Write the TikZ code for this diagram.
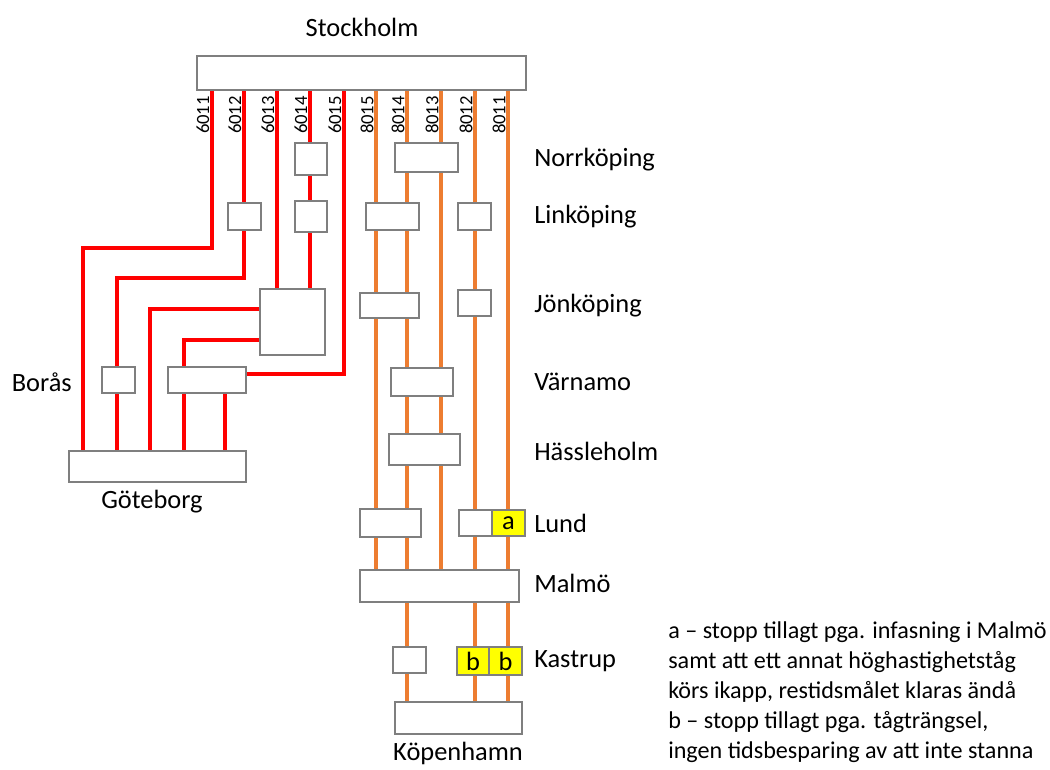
\documentclass[tikz,border=0pt]{standalone}
\usepackage{fontspec}
\setmainfont{Carlito}
\usetikzlibrary{fit,backgrounds}
\definecolor{railred}{HTML}{FF0000}
\definecolor{railorange}{HTML}{ED7D31}
\definecolor{boxgray}{HTML}{7F7F7F}
\definecolor{stopyellow}{HTML}{FFFF00}
\begin{document}
\begin{tikzpicture}[x=0.75pt,y=-0.75pt,
  stopbox/.style={draw=boxgray, line width=1.7pt, fill=white, inner sep=0pt},
  addedstop/.style={stopbox, fill=stopyellow},
  redline/.style={draw=railred, line width=2.3pt},
  orangeline/.style={draw=railorange, line width=2.5pt},
  station/.style={font=\fontsize{19.8}{22}\selectfont, inner sep=0pt},
  trainno/.style={font=\fontsize{14}{16}\selectfont, rotate=90, inner sep=0pt},
  note/.style={font=\fontsize{18.1}{22.5}\selectfont, align=left, inner sep=0pt}]
\useasboundingbox (0,0) rectangle (1050,769);

% track positions
\foreach \n/\x in {6011/212,6012/244,6013/277,6014/310,6015/344,
                   8015/376,8014/407,8013/441,8012/475,8011/508}
  \coordinate (t\n) at (\x,0);
% bend points of the red lines
\coordinate (k6011) at (83,248);
\coordinate (k6012) at (117,278);
\coordinate (k6013) at (150,309);
\coordinate (kjb)   at (184,340);
\coordinate (k6015) at (344,374);
\coordinate (kbg)   at (225,0);

% stations
\node[stopbox, fit={(197,56) (526,90)}] (sth) {};
\node[stopbox, fit={(295,143) (327,175)}] (nk1) {};
\node[stopbox, fit={(395,143) (458,172)}] (nk2) {};
\node[stopbox, fit={(228,203) (261,230)}] (lk1) {};
\node[stopbox, fit={(295,201) (327,232)}] (lk2) {};
\node[stopbox, fit={(366,203) (419,230)}] (lk3) {};
\node[stopbox, fit={(458,203) (491,230)}] (lk4) {};
\node[stopbox, fit={(260,289) (325,355)}] (jk1) {};
\node[stopbox, fit={(360,293) (419,318)}] (jk2) {};
\node[stopbox, fit={(458,290) (491,316)}] (jk3) {};
\node[stopbox, fit={(391,368) (453,396)}] (vn) {};
\node[stopbox, fit={(389,434) (460,465)}] (hh) {};
\node[stopbox, fit={(360,509) (421,537)}] (ld1) {};
\node[stopbox, fit={(459,510) (492,536)}] (ld2) {};
\node[addedstop, fit={(492,510) (525,536)}] (lda) {};
\node[station] at (lda.center) (ldalab) {a};
\node[stopbox, fit={(360,570) (519,602)}] (ml) {};
\node[stopbox, fit={(393,647) (426,673)}] (ks1) {};
\node[addedstop, fit={(457,647) (489,675)}] (ksb1) {};
\node[station] at (ksb1.center) (ksb1lab) {b};
\node[addedstop, fit={(489,647) (522,675)}] (ksb2) {};
\node[station] at (ksb2.center) (ksb2lab) {b};
\node[stopbox, fit={(395,702) (522,734)}] (kh) {};
\node[stopbox, fit={(102,367) (135,393)}] (br1) {};
\node[stopbox, fit={(168,367) (246,393)}] (br2) {};
\node[stopbox, fit={(69,451) (246,482)}] (gb) {};

\begin{scope}[on background layer]
  % X 2000 services via Göteborg
  \draw[redline] (sth.south -| t6011) |- (k6011) -- (gb.north -| k6011);
  \draw[redline] (sth.south -| t6012) -- (lk1.north -| t6012);
  \draw[redline] (lk1.south -| t6012) |- (k6012) -- (br1.north -| k6012);
  \draw[redline] (br1.south -| k6012) -- (gb.north -| k6012);
  \draw[redline] (sth.south -| t6013) -- (jk1.north -| t6013);
  \draw[redline] (jk1.west |- k6013) -| (gb.north -| k6013);
  \draw[redline] (sth.south -| t6014) -- (nk1.north -| t6014);
  \draw[redline] (nk1.south -| t6014) -- (lk2.north -| t6014);
  \draw[redline] (lk2.south -| t6014) -- (jk1.north -| t6014);
  \draw[redline] (jk1.west |- kjb) -| (br2.north -| kjb);
  \draw[redline] (br2.south -| kjb) -- (gb.north -| kjb);
  \draw[redline] (br2.south -| kbg) -- (gb.north -| kbg);
  \draw[redline] (sth.south -| k6015) |- (br2.east |- k6015);
  % high-speed services to Malmö and Köpenhamn
  \foreach \a/\b in {sth/lk3,lk3/jk2,jk2/ld1,ld1/ml}
    \draw[orangeline] (\a.south -| t8015) -- (\b.north -| t8015);
  \foreach \a/\b in {sth/nk2,nk2/lk3,lk3/jk2,jk2/vn,vn/hh,hh/ld1,ld1/ml,ml/ks1,ks1/kh}
    \draw[orangeline] (\a.south -| t8014) -- (\b.north -| t8014);
  \foreach \a/\b in {sth/nk2,nk2/vn,vn/hh,hh/ml}
    \draw[orangeline] (\a.south -| t8013) -- (\b.north -| t8013);
  \foreach \a/\b in {sth/lk4,lk4/jk3,jk3/ld2,ld2/ml,ml/ksb1,ksb1/kh}
    \draw[orangeline] (\a.south -| t8012) -- (\b.north -| t8012);
  \foreach \a/\b in {sth/lda,lda/ml,ml/ksb2,ksb2/kh}
    \draw[orangeline] (\a.south -| t8011) -- (\b.north -| t8011);
\end{scope}

% train numbers
\foreach \n/\x in {6011/212,6012/244,6013/277,6014/310,6015/344,
                   8015/376,8014/407,8013/441,8012/475,8011/508}
  \node[trainno] (no\n) at (\x-9,115) {\n};

% station names
\node[station] (lstockholm) at (362,27) {Stockholm};
\node[station, anchor=west] (lnorrk) at (534,160) {Norrköping};
\node[station, anchor=west] (llink) at (534,217) {Linköping};
\node[station, anchor=west] (ljonk) at (534,306) {Jönköping};
\node[station, anchor=west] (lvarn) at (534,382) {Värnamo};
\node[station, anchor=west] (lhass) at (534,451) {Hässleholm};
\node[station, anchor=west] (llund) at (534,523) {Lund};
\node[station, anchor=west] (lmalmo) at (534,583) {Malmö};
\node[station, anchor=west] (lkast) at (534,661) {Kastrup};
\node[station] (lkoph) at (458,753) {Köpenhamn};
\node[station] (lgbg) at (152,502) {Göteborg};
\node[station, anchor=east] (lboras) at (72,382) {Borås};

% notes
\node[note, anchor=west] (notes) at (668,692)
  {a – stopp tillagt pga. infasning i Malmö\\
   samt att ett annat höghastighetståg\\
   körs ikapp, restidsmålet klaras ändå\\
   b – stopp tillagt pga. tågträngsel,\\
   ingen tidsbesparing av att inte stanna};
\end{tikzpicture}
\end{document}
